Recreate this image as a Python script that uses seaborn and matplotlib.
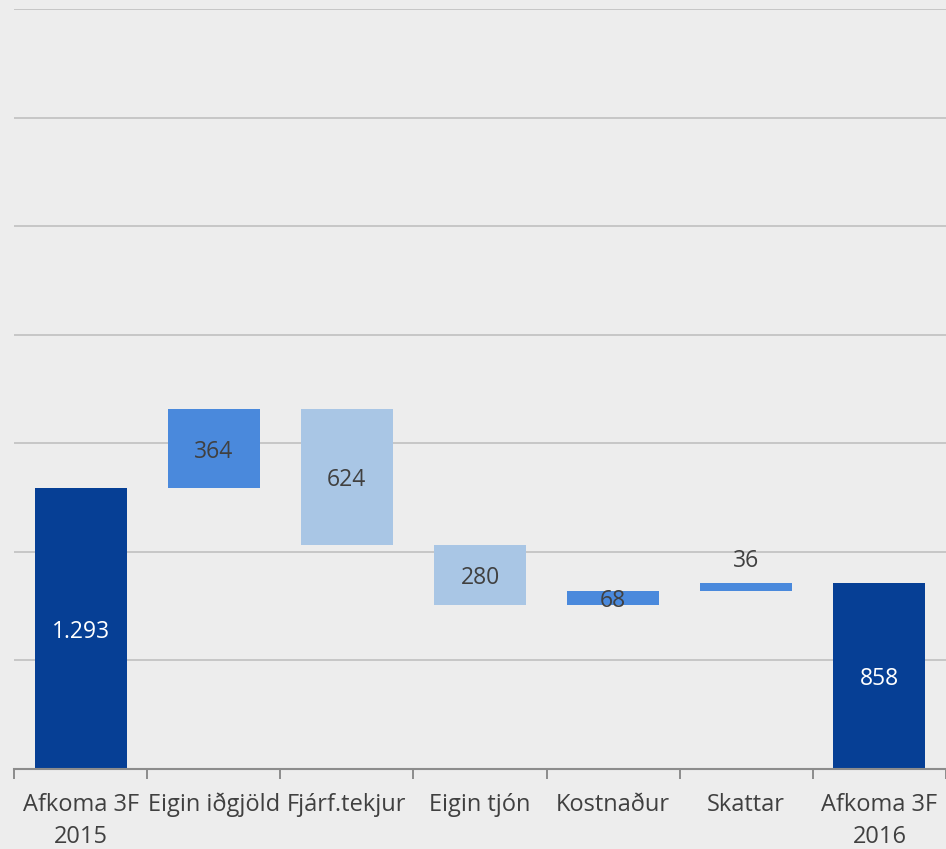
import matplotlib
matplotlib.use("Agg")
import matplotlib.pyplot as plt
import seaborn as sns
import numpy as np

categories = ["Afkoma 3F\n2015", "Eigin iðgjöld", "Fjárf.tekjur", "Eigin tjón",
              "Kostnaður", "Skattar", "Afkoma 3F\n2016"]
changes = [1293, 364, -624, -280, 68, 36, 858]
kinds = ["total", "up", "down", "down", "up", "up", "total"]
labels = ["1.293", "364", "624", "280", "68", "36", "858"]

colors = {"total": "#063F95", "up": "#4A89DC", "down": "#A9C6E5"}
bg = "#EDEDED"

# compute bottoms / heights for waterfall
bottoms, heights = [], []
run = 0
for c, k in zip(changes, kinds):
    if k == "total":
        bottoms.append(0)
        heights.append(c)
        run = c
    elif c >= 0:
        bottoms.append(run)
        heights.append(c)
        run += c
    else:
        bottoms.append(run + c)
        heights.append(-c)
        run += c

sns.set_theme(style="white")
plt.rcParams["font.family"] = ["Open Sans", "DejaVu Sans"]

fig = plt.figure(figsize=(9.46, 8.49), dpi=100, facecolor=bg)
ax = fig.add_axes([14 / 946, 1 - 769 / 849, 1 - 14 / 946, (769 - 9) / 849])
ax.set_facecolor(bg)

sns.barplot(x=categories, y=heights, bottom=bottoms, ax=ax, width=0.69,
            color=colors["up"], linewidth=0, zorder=3)
for p, k in zip(ax.patches, kinds):
    p.set_facecolor(colors[k])
    p.set_edgecolor("none")

ax.set_ylim(0, 3500)
ax.set_xlim(-0.5, 6.5)
ax.set_yticks(np.arange(0, 3501, 500))
ax.set_yticklabels([])
ax.tick_params(axis="y", length=0)
ax.grid(axis="y", color="#C6C6C6", linewidth=1.4, zorder=0)
ax.set_axisbelow(True)

for s in ["top", "right", "left"]:
    ax.spines[s].set_visible(False)
ax.spines["bottom"].set_color("#8C8C8C")
ax.spines["bottom"].set_linewidth(1.5)
ax.spines["bottom"].set_zorder(4)

ax.set_xticks(np.arange(len(categories)))
ax.set_xticklabels(categories, fontsize=17, color="#404040", linespacing=1.45)
ax.tick_params(axis="x", which="major", length=0, pad=17, bottom=True)
ax.set_xticks(np.arange(-0.5, 6.6, 1.0), minor=True)
ax.tick_params(axis="x", which="minor", bottom=True, length=7, width=1.4,
               color="#8C8C8C", direction="out")

for i, (b, h, k, lab) in enumerate(zip(bottoms, heights, kinds, labels)):
    col = "white" if k == "total" else "#404040"
    if lab == "36":
        ax.text(i, b + h + 45, lab, ha="center", va="bottom", fontsize=16.5, color=col, zorder=5)
    else:
        ax.text(i, b + h / 2, lab, ha="center", va="center_baseline", fontsize=16.5,
                color=col, zorder=5)

fig.savefig("out.png", dpi=100, facecolor=bg)
